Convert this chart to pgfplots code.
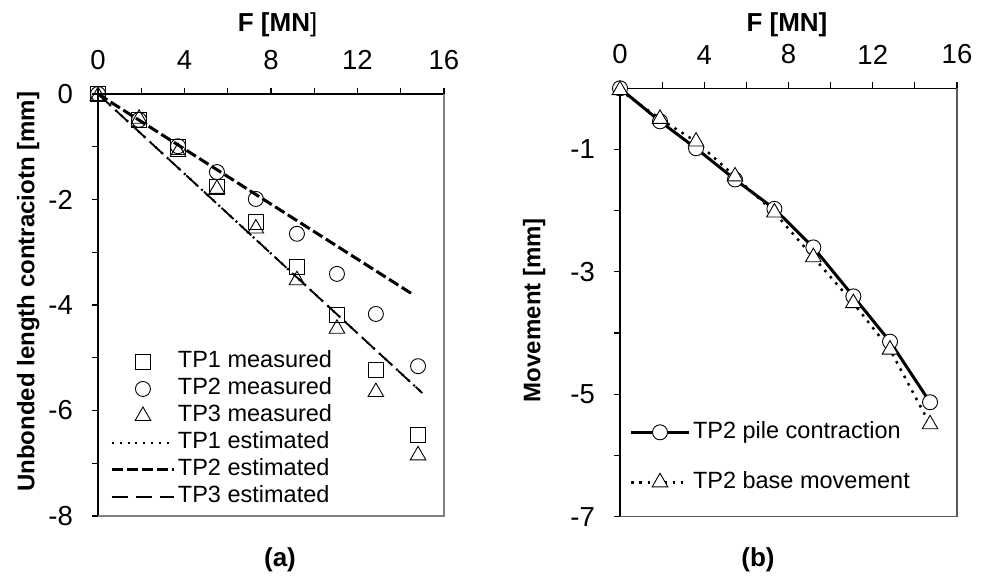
\documentclass[border=0pt]{standalone}
\usepackage{fontspec}
\setmainfont{Liberation Sans}
\usepackage{pgfplots}
\pgfplotsset{compat=1.18}
\begin{document}
\fontsize{23.5pt}{28pt}\selectfont
\begin{tikzpicture}[x=1pt,y=1pt]
\useasboundingbox (0,0) rectangle (986,577);
\pgfplotsset{
  common/.style={
    scale only axis,
    clip=false,
    axis x line*=top,
    axis y line*=left,
    tick align=outside,
    axis line style={line width=1.2pt, black},
    every tick/.style={line width=1.2pt, black},
    major tick length=6pt, minor tick length=6pt,
    /pgf/number format/assume math mode=true,
    tick label style={font=\fontsize{27.5pt}{30pt}\selectfont},
    xmin=0, xmax=16, xtick={0,4,8,12,16}, minor xtick={2,6,10,14},
    xticklabel style={inner sep=0pt, anchor=south},
    xticklabel shift=18pt,
    yticklabel style={inner sep=0pt, anchor=east},
    yticklabel shift=19pt,
    xlabel style={font=\fontsize{26pt}{30pt}\selectfont\bfseries},
    ylabel style={font=\fontsize{24pt}{28pt}\selectfont\bfseries},
    legend cell align=left,
    legend style={draw=none, fill=none, inner sep=0pt, outer sep=0pt,
      nodes={inner sep=2.5pt, text height=17pt, text depth=5pt}},
  }
}
% ---------------- panel (a) ----------------
\begin{axis}[common,
  at={(98pt,61pt)}, anchor=south west,
  width=346pt, height=422pt,
  ymin=-8, ymax=0, ytick={-8,-6,-4,-2,0}, minor ytick={-7,-5,-3,-1},
  xlabel={F [MN\textmd{]}},
  xlabel style={at={(axis description cs:0.519,1.1635)}, anchor=center, inner sep=0pt},
  ylabel={Unbonded length contraciotn [mm]},
  ylabel style={at={(axis description cs:-0.202,0.531)}, anchor=center, rotate=0, inner sep=0pt},
  legend style={at={(0.036,0.397)}, anchor=north west, row sep=0pt},
  legend image code/.code={\draw[mark repeat=2,mark phase=2,#1] plot coordinates {(0pt,0pt) (31pt,0pt) (62pt,0pt)};},
]
\addplot[only marks, mark=square, mark size=7.5pt, mark options={line width=0.9pt, black}] coordinates {
 (0,0) (1.9,-0.50) (3.7,-1.00) (5.5,-1.76) (7.3,-2.42) (9.2,-3.28) (11.05,-4.19) (12.85,-5.23) (14.8,-6.46)};
\addlegendentry{TP1 measured}
\addplot[only marks, mark=o, mark size=7.5pt, mark options={line width=0.9pt, black}] coordinates {
 (0,0) (1.9,-0.49) (3.7,-0.99) (5.5,-1.48) (7.3,-1.99) (9.2,-2.65) (11.05,-3.41) (12.85,-4.17) (14.8,-5.16)};
\addlegendentry{TP2 measured}
\addplot[only marks, mark=triangle, mark size=9pt, mark options={line width=0.9pt, black}] coordinates {
 (0,-0.04) (1.9,-0.47) (3.7,-1.10) (5.5,-1.80) (7.3,-2.55) (9.2,-3.53) (11.05,-4.45) (12.85,-5.65) (14.8,-6.85)};
\addlegendentry{TP3 measured}
\addplot[black, line width=2.2pt, dash pattern=on 2pt off 5.8pt] coordinates {(0,0) (15.0,-5.67)};
\addlegendentry{TP1 estimated}
\addplot[black, line width=3pt, dash pattern=on 11pt off 4pt] coordinates {(0,0) (14.6,-3.81)};
\addlegendentry{TP2 estimated}
\addplot[black, line width=1.8pt, dash pattern=on 16.5pt off 7.5pt] coordinates {(0,0) (15.0,-5.67)};
\addlegendentry{TP3 estimated}
\draw[gray, line width=1.2pt] (rel axis cs:0,0) -- (rel axis cs:1,0) -- (rel axis cs:1,1);
\end{axis}
% ---------------- panel (b) ----------------
\begin{axis}[common,
  at={(620pt,60.3pt)}, anchor=south west,
  width=337pt, height=428.4pt,
  ymin=-7, ymax=0, ytick={-7,-5,-3,-1}, minor ytick={-6,-4,-2,0},
  xlabel={F [MN]},
  xlabel style={at={(axis description cs:0.4955,1.1478)}, anchor=center, inner sep=0pt},
  ylabel={Movement [mm]},
  ylabel style={at={(axis description cs:-0.255,0.4825)}, anchor=center, rotate=0, inner sep=0pt},
  legend style={at={(0.0282,0.2285)}, anchor=north west, row sep=23pt},
  legend image code/.code={\draw[mark repeat=2,mark phase=2,#1] plot coordinates {(0pt,0pt) (29pt,0pt) (58pt,0pt)};},
]
\addplot[black, line width=3pt, mark=*, mark size=7.5pt, mark options={solid, line width=0.9pt, draw=black, fill=white}] coordinates {
 (0,0) (1.9,-0.54) (3.61,-0.98) (5.46,-1.49) (7.33,-1.97) (9.18,-2.60) (11.08,-3.40) (12.82,-4.14) (14.72,-5.13)};
\addlegendentry{TP2 pile contraction}
\addplot[black, line width=2.5pt, dash pattern=on 2.5pt off 5.8pt, mark=triangle*, mark size=9pt, mark options={solid, line width=0.9pt, draw=black, fill=white}] coordinates {
 (0,-0.03) (1.9,-0.50) (3.61,-0.87) (5.46,-1.44) (7.33,-2.03) (9.18,-2.76) (11.08,-3.51) (12.82,-4.27) (14.72,-5.49)};
\addlegendentry{TP2 base movement}
\draw[gray!70!black, line width=1.2pt] (rel axis cs:0,0) -- (rel axis cs:1,0) -- (rel axis cs:1,1);
\end{axis}
\node[font=\fontsize{26pt}{30pt}\selectfont\bfseries, anchor=center] at (280,17) {(a)};
\node[font=\fontsize{26pt}{30pt}\selectfont\bfseries, anchor=center] at (758,17) {(b)};
\end{tikzpicture}
\end{document}
